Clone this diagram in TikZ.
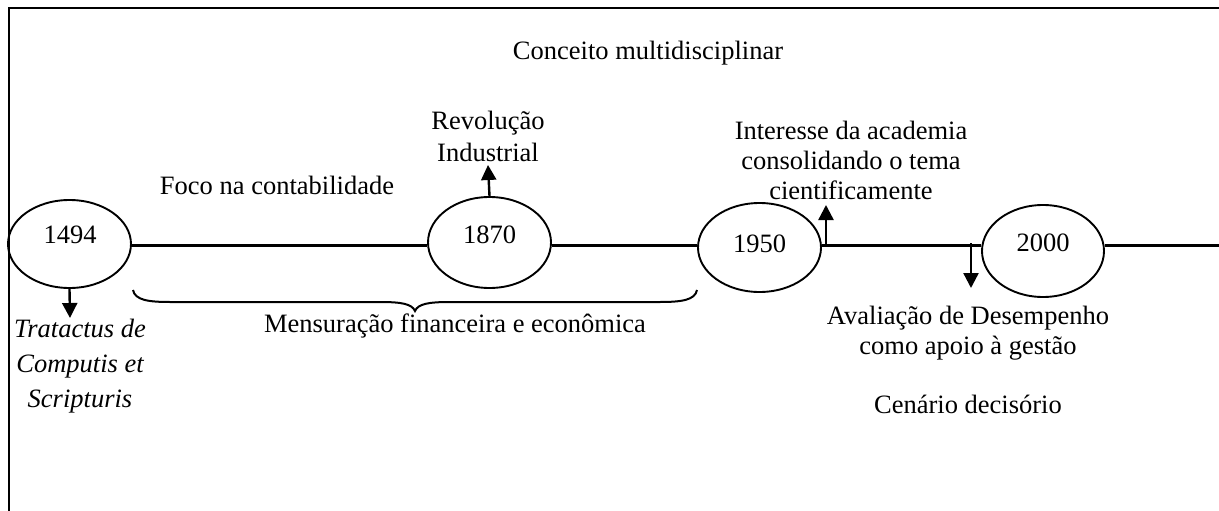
\documentclass[tikz,border=0pt]{standalone}
\usepackage{fontspec}
\setmainfont{Liberation Serif}
\usetikzlibrary{shapes.geometric,arrows.meta}
\begin{document}
\begin{tikzpicture}[x=1pt,y=-1pt,
  yearbox/.style={draw, ellipse, line width=1.9pt, minimum width=123pt, inner sep=0pt},
  txt/.style={font=\fontsize{26.5}{31}\selectfont, align=center, inner sep=0pt},
  arr/.style={line width=2.4pt, -{Triangle[width=15pt,length=15pt]}},
  tline/.style={line width=2.2pt},
  framestyle/.style={line width=2.6pt},
  bracestyle/.style={line width=2pt}]
\useasboundingbox (0,0) rectangle (1219,511);
% frame
\coordinate (fbl) at (9,511);
\coordinate (ftl) at (9,8);
\coordinate (ftr) at (1219,8);
\draw[framestyle] (fbl) -- (ftl) -- (ftr);
% ellipses
\node[yearbox, minimum height=88pt] (e1) at (69.5,244) {};
\node[txt] (t1) at (70,235) {1494};
\node[yearbox, minimum height=91pt] (e2) at (489.5,242.5) {};
\node[txt] (t2) at (489.5,235) {1870};
\node[yearbox, minimum height=89pt] (e3) at (759.5,247.5) {};
\node[txt] (t3) at (759.5,243.5) {1950};
\node[yearbox, minimum width=122pt, minimum height=92pt] (e4) at (1043,251) {};
\node[txt] (t4) at (1043,243) {2000};
% timeline
\coordinate (tl) at (0,245.5);
\coordinate (rend) at (1219,245.5);
\draw[tline] (e1.east |- tl) -- (e2.west |- tl);
\draw[tline] (e2.east |- tl) -- (e3.west |- tl);
\draw[tline] (e3.east |- tl) -- (e4.west |- tl);
\draw[tline] (e4.east |- tl) -- (rend);
% texts
\node[txt] (concept) at (648,53) {Conceito multidisciplinar};
\node[txt, font=\fontsize{26.5}{32}\selectfont] (rev) at (488,136) {Revolução\\Industrial};
\node[txt] (foco) at (277,185) {Foco na contabilidade};
\node[txt, font=\fontsize{26.5}{30}\selectfont] (inter) at (851,160) {Interesse da academia\\consolidando o tema\\cientificamente};
\node[txt, font=\fontsize{26.5}{35}\selectfont\itshape] (tract) at (80,366) {Tratactus de\\Computis et\\Scripturis};
\node[txt] (mens) at (455,326) {Mensuração financeira e econômica};
\node[txt, font=\fontsize{26.5}{30}\selectfont] (aval) at (968,333) {Avaliação de Desempenho\\como apoio à gestão};
\node[txt] (cen) at (968,404) {Cenário decisório};
% arrows
\coordinate (a1e) at (70,318);
\draw[arr] (e1.south) -- (a1e);
\coordinate (a2e) at (488,165);
\draw[arr] (e2.north) -- (a2e);
\coordinate (a3s) at (826,245.5);
\coordinate (a3e) at (826,205);
\draw[arr] (a3s) -- (a3e);
\coordinate (a4s) at (971,243);
\coordinate (a4e) at (971,288);
\draw[arr] (a4s) -- (a4e);
% brace
\coordinate (bl) at (133,290);
\coordinate (bm) at (415,311);
\coordinate (br) at (697,290);
\draw[bracestyle] (bl) .. controls (135,300) and (148,302) .. (170,302) -- (380,302)
  .. controls (402,302) and (412,304) .. (bm)
  .. controls (418,304) and (428,302) .. (450,302) -- (660,302)
  .. controls (682,302) and (695,300) .. (br);
\end{tikzpicture}
\end{document}
